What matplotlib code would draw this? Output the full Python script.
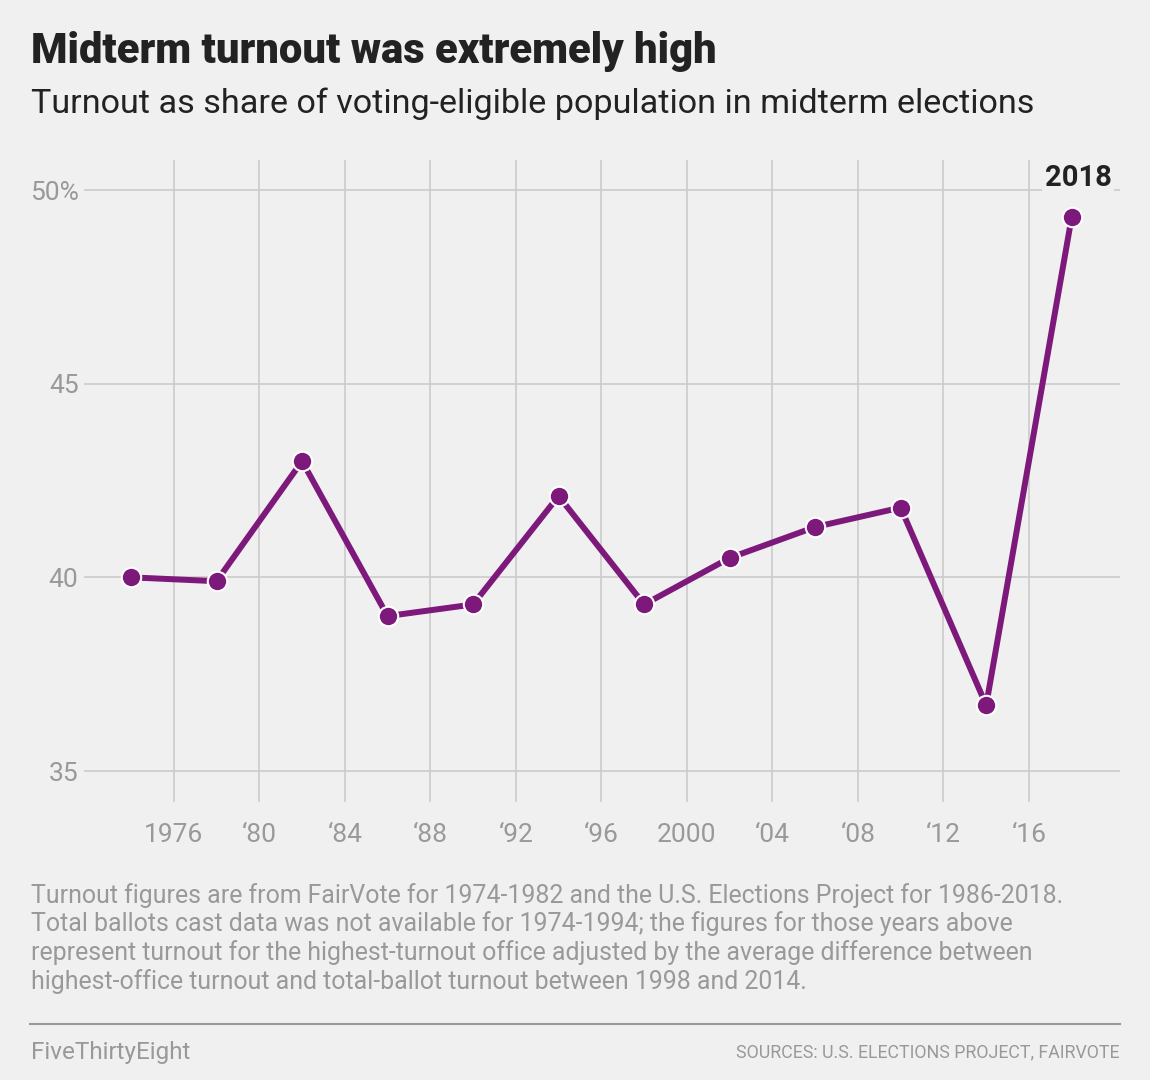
import matplotlib.pyplot as plt

# datos
anios = [1974, 1978, 1982, 1986, 1990, 1994, 1998, 2002, 2006, 2010, 2014, 2018]
participacion = [40.0, 39.9, 43.0, 39.0, 39.3, 42.1, 39.3, 40.5, 41.3, 41.8, 36.7, 49.3]
xticks = [1976, 1980, 1984, 1988, 1992, 1996, 2000, 2004, 2008, 2012, 2016]
xtick_labels = ['1976', '\u201880', '\u201884', '\u201888', '\u201892', '\u201896', '2000',
                '\u201804', '\u201808', '\u201812', '\u201816']
yticks = [35, 40, 45, 50]
ytick_labels = ['35', '40', '45', '50%']

fondo = '#f0f0f0'
gris = '#999999'
morado = '#7d197a'
fuente = ['Roboto', 'DejaVu Sans']

W, H = 1150, 1080
fig = plt.figure(figsize=(W / 100, H / 100), dpi=100, facecolor=fondo)

def px(x, y):
    return x / W, 1 - y / H

# ejes en pixeles
izq, der, arriba, abajo = 84, 1120, 160, 802
ax = fig.add_axes([izq / W, 1 - abajo / H, (der - izq) / W, (abajo - arriba) / H])
ax.set_facecolor(fondo)
ax.set_xlim(1971.8, 2020.26)
ax.set_ylim(34.2, 50.775)

for y in yticks:
    ax.axhline(y, color='#cbcbcb', lw=1.2, zorder=0)
for x in xticks:
    ax.axvline(x, color='#cbcbcb', lw=1.2, zorder=0)

ax.plot(anios, participacion, color=morado, lw=4.3, marker='o', ms=14,
        mfc=morado, mec='white', mew=1.5, zorder=3, solid_capstyle='butt')

ax.text(anios[-1] + 0.3, 50.3, '2018', ha='center', va='center', fontsize=21,
        fontweight='bold', color='#222222', family=fuente,
        bbox=dict(facecolor=fondo, edgecolor='none', pad=2), zorder=4)

for s in ax.spines.values():
    s.set_visible(False)
ax.set_xticks(xticks)
ax.set_xticklabels(xtick_labels)
ax.set_yticks(yticks)
ax.set_yticklabels(ytick_labels)
ax.tick_params(length=0, colors=gris, labelsize=19)
ax.tick_params(axis='x', pad=15)
ax.tick_params(axis='y', pad=4)
for lab in ax.get_xticklabels() + ax.get_yticklabels():
    lab.set_family(fuente)
    lab.set_color(gris)

# titulos
fig.text(*px(31, 52), 'Midterm turnout was extremely high', fontsize=30.1, fontweight='heavy',
         color='#222222', family=fuente, va='center')
fig.text(*px(31, 104), 'Turnout as share of voting-eligible population in midterm elections',
         fontsize=24.6, color='#222222', family=fuente, va='center')

nota = ('Turnout figures are from FairVote for 1974-1982 and the U.S. Elections Project for 1986-2018.\n'
        'Total ballots cast data was not available for 1974-1994; the figures for those years above\n'
        'represent turnout for the highest-turnout office adjusted by the average difference between\n'
        'highest-office turnout and total-ballot turnout between 1998 and 2014.')
fig.text(*px(31, 883), nota, fontsize=17.9, color=gris, family=fuente,
         va='top', linespacing=1.18)

fig.add_artist(plt.Line2D([30 / W, 1120 / W], [1 - 1024 / H] * 2, color=gris, lw=1.5))
fig.text(*px(31, 1052), 'FiveThirtyEight', fontsize=17.5, color=gris,
         family=fuente, va='center')
fig.text(*px(1120, 1052), 'SOURCES: U.S. ELECTIONS PROJECT, FAIRVOTE', fontsize=12.8, color=gris,
         family=fuente, va='center', ha='right')

fig.savefig('out.png', dpi=100, facecolor=fondo)
